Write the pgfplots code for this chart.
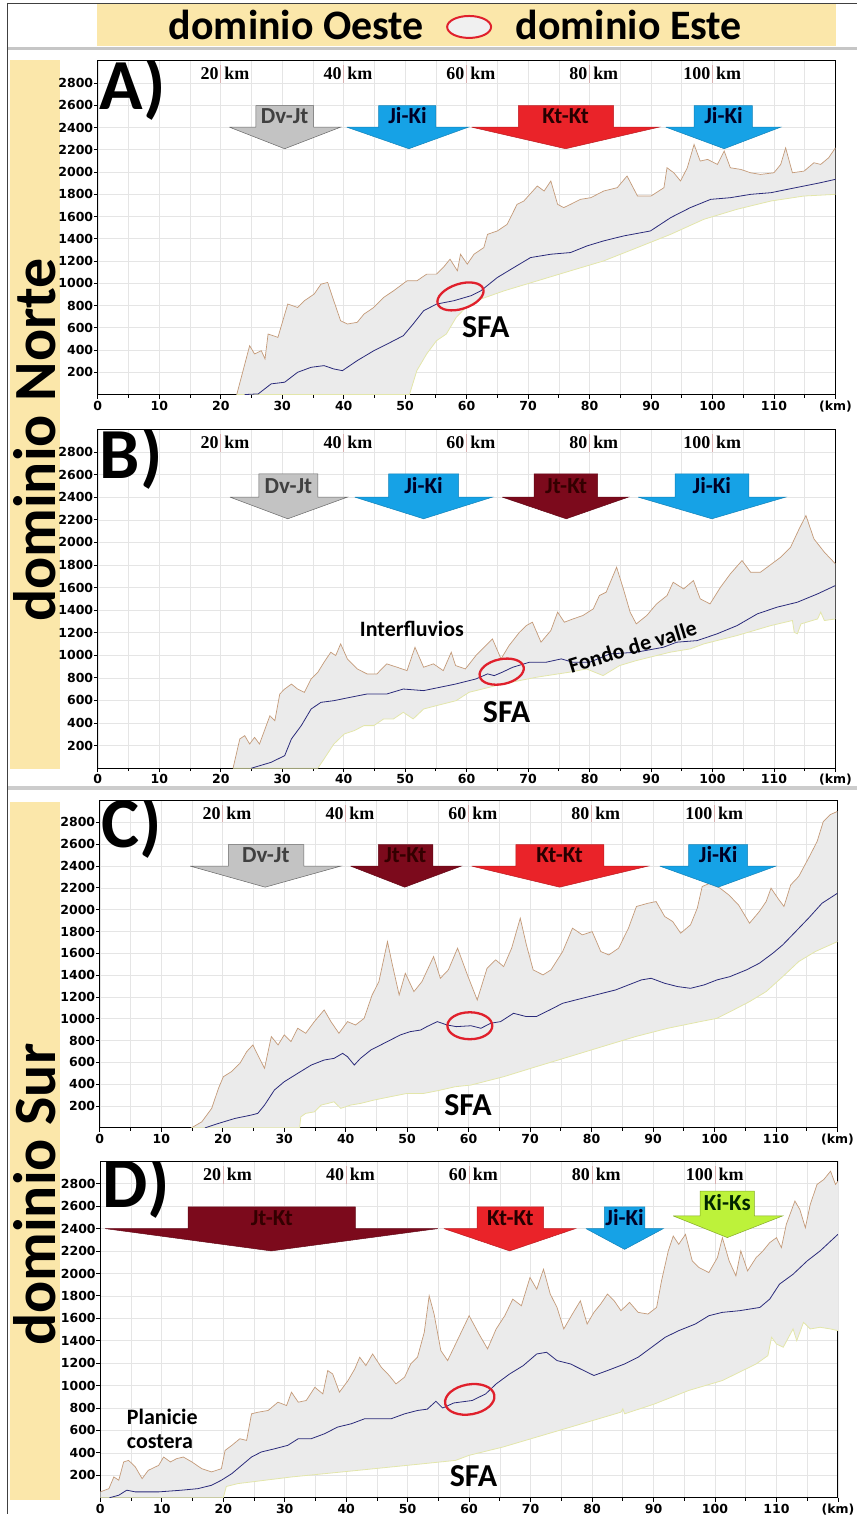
\documentclass[border=0pt]{standalone}
\usepackage{fontspec}
\setmainfont{Carlito}
\newfontfamily\dvs{DejaVu Sans}
\newfontfamily\lserif{Liberation Serif}
\usepackage{pgfplots}
\pgfplotsset{compat=1.18}
\usepgfplotslibrary{fillbetween}
\usetikzlibrary{shapes.geometric}

\definecolor{bandY}{HTML}{FBE7AA}
\definecolor{fillG}{HTML}{EBEBEB}
\definecolor{upC}{HTML}{C49A78}
\definecolor{midC}{HTML}{2A2A7A}
\definecolor{lowC}{HTML}{E3E6AA}
\definecolor{arrGray}{HTML}{C3C3C3}
\definecolor{arrBlue}{HTML}{16A2E6}
\definecolor{arrRed}{HTML}{EA2329}
\definecolor{arrMaroon}{HTML}{7C0A1C}
\definecolor{arrLime}{HTML}{BDF23A}
\definecolor{ellRed}{HTML}{E0202C}
\definecolor{kmLine}{HTML}{D8B0B0}

\newcommand{\fs}[1]{\fontsize{#1}{#1}\selectfont}

\tikzset{arrtxt/.style={font=\bfseries\fs{23}, inner sep=0, anchor=base}}

\pgfplotsset{
  panel/.style={
    scale only axis, width=739pt, anchor=south west,
    xmin=0, xmax=120, ymin=0, ymax=3000,
    xtick={0,10,...,120},
    xticklabels={0,10,20,30,40,50,60,70,80,90,100,110,(km)},
    minor xtick={5,15,...,115},
    ytick={200,400,...,2800},
    grid=both,
    major grid style={draw=black!10, line width=0.6pt},
    minor grid style={draw=black!10, line width=0.6pt},
    tick align=outside, major tick length=4pt, minor tick length=3pt,
    tick style={black, line width=0.8pt},
    xtick pos=bottom, ytick pos=left,
    axis line style={black, line width=1.1pt},
    ticklabel style={font=\dvs\bfseries\fs{12.5}},
    /pgf/number format/assume math mode=true,
    /pgf/number format/1000 sep={},
    yticklabel style={inner sep=0.5pt},
    xticklabel style={inner sep=2pt},
  },
  upl/.style={draw=upC, line width=0.7pt, mark=none},
  midl/.style={draw=midC, line width=0.8pt, mark=none},
  lowl/.style={draw=lowC, line width=0.8pt, mark=none},
}

\newcommand{\kmlabels}{%
  \pgfplotsinvokeforeach{20,40,60,80,100}{%
    \draw[kmLine, line width=0.8pt] (axis cs:##1,2800) -- (axis cs:##1,2960);
    \node[anchor=base east, inner sep=2pt, font=\lserif\bfseries\fs{18}] at (axis cs:##1,2830) {##1};
    \node[anchor=base west, inner sep=3.5pt, font=\lserif\bfseries\fs{18}] at (axis cs:##1,2830) {km};
  }%
  \node[font=\dvs\bfseries\fs{11}] at ([xshift=-18pt,yshift=9pt]rel axis cs:0,1) {(m)};
}

\begin{document}
\begin{tikzpicture}
\path (0,0) rectangle (859pt,-1517pt);
% frame and bands
\fill[bandY] (97pt,-3pt) rectangle (838pt,-46pt);
\fill[bandY] (10pt,-60pt) rectangle (60pt,-770pt);
\fill[bandY] (10pt,-803pt) rectangle (60pt,-1503pt);
\draw[gray!45, line width=3pt] (7pt,-49pt) -- (859pt,-49pt);
\draw[gray!40, line width=4pt] (7pt,-789pt) -- (859pt,-789pt);
\draw[black!75, line width=0.9pt] (7pt,-3pt) -- (859pt,-3pt);
\draw[black!75, line width=0.9pt] (7pt,-3pt) -- (7pt,-1517pt);
% title
\node[font=\bfseries\fs{42}, anchor=base] at (297pt,-40pt) {dominio Oeste};
\node[font=\bfseries\fs{42}, anchor=base] at (630pt,-40pt) {dominio Este};
\node[draw=ellRed, fill=black!6, line width=2pt, ellipse, minimum width=44pt, minimum height=22pt, inner sep=0] at (470pt,-27pt) {};
\node[font=\bfseries\fs{60}, rotate=90, anchor=base] at (56pt,-441pt) {dominio Norte};
\node[font=\bfseries\fs{60}, rotate=90, anchor=base] at (56pt,-1197pt) {dominio Sur};

% ================= Panel A =================
\begin{axis}[panel, at={(98pt,-395.3pt)}, height=334.5pt]
\addplot[name path=upA, upl] coordinates {
(22.6,0) (24.7,439) (25.5,365) (26.6,394) (27.2,320) (27.7,544) (29.3,514) (30.9,813) (32.5,783) (33.6,843) (35.2,903) (36.3,992) (37.4,1007) (38.2,873) (39.5,663) (40.6,634) (42.2,649) (43.3,723) (44.9,783) (46.5,873) (48.1,932) (50.3,1022) (51.9,1022) (53.5,1082) (55.1,1082) (56.2,1142) (57.3,1216) (58.5,1112) (59.0,1261) (60.1,1172) (61.2,1261) (62.8,1321) (63.4,1440) (65.0,1470) (66.6,1530) (68.2,1709) (69.3,1739) (71.5,1874) (72.6,1829) (73.7,1919) (74.8,1709) (75.8,1680) (76.9,1709) (78.5,1754) (80.2,1769) (82.3,1829) (84.5,1859) (86.1,1964) (87.8,1784) (90.0,1784) (92.1,1859) (92.6,2038) (93.7,1993) (94.8,1919) (95.9,2038) (97.0,2247) (98.0,2098) (99.2,2113) (100.8,2068) (101.9,2188) (102.9,2038) (104.6,2023) (106.2,1993) (107.8,1978) (110.0,1993) (111.1,2068) (111.9,2217) (113.0,1993) (114.9,2008) (116.5,2083) (117.6,2068) (118.9,2128) (120,2217)};
\addplot[name path=loA, lowl] coordinates {
(22.6,0) (50.7,0) (51.9,215) (53.5,365) (55.1,484) (56.7,544) (58.3,693) (60.0,790) (62.3,858) (66.1,932) (71.5,1022) (76.9,1112) (82.3,1201) (87.8,1321) (93.2,1440) (98.6,1575) (104.0,1665) (109.5,1739) (114.9,1784) (120,1799)};
\addplot[fillG] fill between[of=upA and loA];
\addplot[midl] coordinates {
(23.9,0) (26.1,6) (28.2,96) (30.4,111) (32.5,200) (34.7,245) (36.8,260) (38.4,230) (39.8,215) (42.2,305) (44.9,394) (47.6,469) (49.7,529) (51.3,634) (53.0,753) (55.1,813) (57.9,843) (60.7,888) (62.3,932) (65.0,1052) (67.7,1142) (70.4,1231) (73.7,1261) (76.9,1276) (79.6,1336) (82.3,1381) (85.6,1426) (89.9,1470) (93.2,1590) (96.4,1680) (99.7,1754) (102.9,1769) (106.2,1799) (109.5,1814) (112.2,1844) (114.9,1874) (117.6,1904) (120,1934)};
% arrows
\addplot[fill=arrGray, draw=black!60, line width=0.5pt, mark=none] coordinates {(21.4,2403) (25.7,2403) (25.7,2597) (35.1,2597) (35.1,2403) (39.5,2403) (30.4,2209) (21.4,2403)};
\node[arrtxt, text=black!75] at (axis cs:30.4,2432) {Dv-Jt};
\addplot[fill=arrBlue, draw=arrBlue!80!black, line width=0.5pt, mark=none] coordinates {(40.5,2403) (45.7,2403) (45.7,2597) (55.0,2597) (55.0,2403) (60.3,2403) (50.6,2209) (40.5,2403)};
\node[arrtxt, text=black!85!blue] at (axis cs:50.4,2432) {Ji-Ki};
\addplot[fill=arrRed, draw=arrRed!80!black, line width=0.5pt, mark=none] coordinates {(60.8,2403) (68.4,2403) (68.4,2597) (83.9,2597) (83.9,2403) (91.3,2403) (76.1,2209) (60.8,2403)};
\node[arrtxt, text=black!85!red] at (axis cs:76.1,2432) {Kt-Kt};
\addplot[fill=arrBlue, draw=arrBlue!80!black, line width=0.5pt, mark=none] coordinates {(92.4,2403) (97.0,2403) (97.0,2597) (106.5,2597) (106.5,2403) (111.1,2403) (101.9,2209) (92.4,2403)};
\node[arrtxt, text=black!85!blue] at (axis cs:101.8,2432) {Ji-Ki};
\kmlabels
\node[font=\bfseries\fs{72}, anchor=base west, inner sep=0] at (axis cs:0.3,2559) {A)};
\node[font=\bfseries\fs{32}] at (axis cs:63.1,610) {SFA};
\node[draw=ellRed, line width=2.3pt, ellipse, minimum width=48pt, minimum height=25pt, inner sep=0, rotate=18] at (axis cs:59.0,882) {};
\end{axis}

% ================= Panel B =================
\begin{axis}[panel, at={(98pt,-769.6pt)}, height=339.3pt]
\addplot[name path=upB, upl] coordinates {
(22.0,0) (23.1,259) (23.9,288) (24.7,214) (25.5,273) (26.3,214) (27.2,347) (28.0,465) (28.8,421) (29.6,657) (30.4,701) (31.5,745) (32.5,701) (33.6,672) (34.7,790) (35.8,850) (36.8,938) (37.9,1027) (38.7,997) (39.5,1101) (40.6,968) (42.2,879) (43.8,835) (45.4,835) (47.0,924) (48.7,894) (50.3,864) (51.6,1071) (53.0,894) (54.6,924) (56.2,864) (57.5,1027) (58.2,909) (59.8,879) (61.5,997) (63.1,1086) (64.2,1145) (65.6,968) (66.9,1086) (68.6,1204) (69.7,1263) (70.7,1293) (72.1,1116) (73.7,1219) (74.8,1382) (75.9,1293) (77.3,1322) (78.9,1352) (80.6,1411) (81.6,1529) (82.7,1559) (84.4,1780) (85.5,1588) (86.6,1382) (87.6,1278) (89.3,1352) (90.9,1455) (92.6,1529) (93.6,1647) (95.3,1588) (96.9,1662) (98.0,1500) (99.6,1455) (101.3,1603) (102.9,1721) (104.8,1839) (106.2,1736) (107.8,1736) (108.9,1780) (111.1,1869) (112.7,1957) (114.1,2120) (115.2,2238) (116.5,2031) (118.2,1913) (120,1810)};
\addplot[name path=loB, lowl] coordinates {
(22.0,0) (35.8,0) (36.8,81) (38.4,214) (40.1,303) (41.7,332) (43.3,377) (44.9,377) (46.5,436) (48.1,436) (49.7,495) (51.3,436) (53.0,524) (55.1,554) (58.3,598) (60.4,672) (65.8,745) (71.3,805) (76.7,850) (79.5,879) (82.2,820) (84.9,909) (87.6,953) (93.1,1027) (96.4,1057) (98.6,1101) (104.0,1175) (109.5,1263) (113.0,1308) (113.3,1204) (113.8,1190) (114.4,1278) (117.1,1322) (117.6,1382) (118.2,1308) (120,1322)};
\addplot[fillG] fill between[of=upB and loB];
\addplot[midl] coordinates {
(25.0,0) (28.2,52) (30.4,111) (31.5,259) (33.1,377) (34.7,524) (36.3,583) (38.4,598) (41.1,628) (43.8,657) (47.0,657) (49.7,701) (53.0,687) (55.6,716) (58.2,745) (61.5,790) (63.4,835) (64.5,820) (65.8,850) (67.5,894) (70.2,938) (72.9,938) (75.4,968) (77.3,938) (80.0,938) (83.3,1012) (87.6,1027) (92.0,1071) (94.2,1116) (97.5,1130) (100.7,1189) (104.0,1263) (107.3,1367) (110.5,1426) (113.8,1470) (117.1,1544) (120,1618)};
\addplot[fill=arrGray, draw=black!60, line width=0.5pt, mark=none] coordinates {(21.5,2401) (26.2,2401) (26.2,2607) (35.8,2607) (35.8,2401) (40.6,2401) (30.9,2209) (21.5,2401)};
\node[arrtxt, text=black!75] at (axis cs:31.0,2435) {Dv-Jt};
\addplot[fill=arrBlue, draw=arrBlue!80!black, line width=0.5pt, mark=none] coordinates {(41.8,2401) (47.3,2401) (47.3,2607) (58.7,2607) (58.7,2401) (64.2,2401) (53.0,2209) (41.8,2401)};
\node[arrtxt, text=black!85!blue] at (axis cs:53.0,2435) {Ji-Ki};
\addplot[fill=arrMaroon, draw=arrMaroon!80!black, line width=0.5pt, mark=none] coordinates {(65.8,2401) (71.0,2401) (71.0,2607) (81.3,2607) (81.3,2401) (86.3,2401) (76.2,2209) (65.8,2401)};
\node[arrtxt, text=black!80!red] at (axis cs:76.2,2435) {Jt-Kt};
\addplot[fill=arrBlue, draw=arrBlue!80!black, line width=0.5pt, mark=none] coordinates {(87.9,2401) (93.9,2401) (93.9,2607) (105.9,2607) (105.9,2401) (111.9,2401) (99.9,2209) (87.9,2401)};
\node[arrtxt, text=black!85!blue] at (axis cs:99.9,2435) {Ji-Ki};
\kmlabels
\node[font=\bfseries\fs{72}, anchor=base west, inner sep=0] at (axis cs:0.3,2563) {B)};
\node[font=\bfseries\fs{22}] at (axis cs:51.1,1235) {Interfluvios};
\node[font=\bfseries\fs{22}, rotate=17, inner sep=0] at (axis cs:87.0,1075) {Fondo de valle};
\node[font=\bfseries\fs{32}] at (axis cs:66.5,492) {SFA};
\node[draw=ellRed, line width=2.3pt, ellipse, minimum width=45pt, minimum height=25pt, inner sep=0, rotate=12] at (axis cs:65.7,855) {};
\end{axis}

% ================= Panel C =================
\begin{axis}[panel, at={(100pt,-1130pt)}, height=328pt]
\addplot[name path=upC, upl] coordinates {
(14.9,0) (16.6,56) (18.2,179) (19.3,362) (20.1,469) (21.4,515) (22.8,592) (23.9,699) (24.9,760) (25.7,668) (26.8,546) (27.9,837) (29.0,760) (30.0,852) (31.1,791) (32.2,913) (33.5,867) (34.9,974) (36.5,1081) (37.6,974) (38.9,867) (40.3,974) (41.6,943) (43.0,1004) (44.3,1218) (45.4,1340) (46.8,1707) (47.6,1493) (48.7,1218) (49.7,1417) (51.1,1249) (52.4,1340) (54.3,1570) (55.4,1371) (56.7,1448) (58.2,1647) (59.8,1402) (61.4,1172) (63.0,1463) (64.4,1540) (65.7,1478) (67.0,1647) (68.4,1922) (69.4,1677) (70.5,1448) (72.1,1402) (73.4,1448) (75.3,1616) (76.9,1830) (78.5,1769) (80.1,1799) (81.5,1616) (82.8,1585) (84.4,1647) (86.0,1830) (87.3,2029) (89.2,2059) (90.5,2074) (91.9,1937) (93.2,1891) (94.5,1784) (96.1,1861) (97.2,2013) (98.0,2212) (99.3,2243) (100.9,2197) (102.3,2136) (103.9,2044) (105.7,1876) (107.3,1983) (108.4,2074) (109.2,2197) (110.3,2105) (111.3,2029) (112.4,2227) (113.7,2304) (115.3,2472) (116.7,2625) (117.7,2808) (118.8,2870) (120,2900)};
\addplot[name path=loC, lowl] coordinates {
(14.9,0) (32.5,0) (32.7,101) (33.5,133) (34.9,147) (36.0,209) (37.1,224) (38.1,239) (39.2,179) (40.8,209) (42.4,224) (44.6,255) (47.3,286) (50.0,316) (52.7,316) (54.9,340) (57.8,377) (60.4,393) (65.7,469) (71.0,561) (76.4,653) (81.7,744) (87.1,836) (92.4,913) (97.7,974) (100.4,1004) (103.1,1081) (105.7,1157) (108.4,1249) (111.1,1386) (113.7,1524) (116.4,1616) (120,1707)};
\addplot[fillG] fill between[of=upC and loC];
\addplot[midl] coordinates {
(17.1,0) (19.3,41) (22.0,87) (24.6,117) (25.7,133) (26.8,209) (28.4,347) (30.0,423) (32.2,500) (34.4,576) (36.5,622) (38.1,637) (39.5,683) (40.3,652) (41.4,576) (42.4,637) (44.1,714) (45.7,760) (47.3,806) (48.9,852) (50.5,882) (52.2,897) (53.2,928) (54.9,974) (56.5,943) (58.0,928) (60.4,936) (62.0,913) (63.6,959) (65.2,974) (67.3,1050) (69.4,1020) (71.0,1020) (73.2,1081) (75.3,1142) (77.4,1172) (79.6,1203) (81.7,1233) (83.9,1264) (86.0,1310) (88.1,1356) (89.7,1371) (91.9,1325) (94.0,1295) (96.1,1279) (98.3,1310) (100.4,1356) (102.5,1386) (105.2,1448) (107.3,1509) (109.5,1601) (111.1,1677) (113.2,1799) (115.3,1922) (117.5,2059) (120,2150)};
\addplot[fill=arrGray, draw=black!60, line width=0.5pt, mark=none] coordinates {(14.7,2399) (20.9,2399) (20.9,2595) (33.2,2595) (33.2,2399) (39.2,2399) (26.9,2206) (14.7,2399)};
\node[arrtxt, text=black!75] at (axis cs:27.0,2430) {Dv-Jt};
\addplot[fill=arrMaroon, draw=arrMaroon!80!black, line width=0.5pt, mark=none] coordinates {(40.8,2399) (45.3,2399) (45.3,2595) (54.2,2595) (54.2,2399) (58.8,2399) (49.6,2206) (40.8,2399)};
\node[arrtxt, text=black!80!red] at (axis cs:49.7,2430) {Jt-Kt};
\addplot[fill=arrRed, draw=arrRed!80!black, line width=0.5pt, mark=none] coordinates {(60.5,2399) (67.7,2399) (67.7,2595) (82.0,2595) (82.0,2399) (89.2,2399) (74.8,2206) (60.5,2399)};
\node[arrtxt, text=black!85!red] at (axis cs:74.8,2430) {Kt-Kt};
\addplot[fill=arrBlue, draw=arrBlue!80!black, line width=0.5pt, mark=none] coordinates {(91.1,2399) (95.8,2399) (95.8,2595) (105.4,2595) (105.4,2399) (110.0,2399) (100.6,2206) (91.1,2399)};
\node[arrtxt, text=black!85!blue] at (axis cs:100.6,2430) {Ji-Ki};
\kmlabels
\node[font=\bfseries\fs{72}, anchor=base west, inner sep=0] at (axis cs:0.3,2569) {C)};
\node[font=\bfseries\fs{32}] at (axis cs:59.9,211) {SFA};
\node[draw=ellRed, line width=2.3pt, ellipse, minimum width=45pt, minimum height=27pt, inner sep=0] at (axis cs:60.2,936) {};
\end{axis}

% ================= Panel D =================
\begin{axis}[panel, at={(100.5pt,-1500.5pt)}, height=337pt]
\addplot[name path=upD, upl] coordinates {
(0,52) (1.4,81) (2.2,185) (3.0,156) (3.8,319) (4.6,333) (5.7,274) (6.8,170) (7.8,244) (9.5,289) (10.3,363) (11.4,319) (12.4,348) (13.5,363) (14.9,319) (16.5,259) (18.1,230) (19.7,259) (20.3,422) (21.4,467) (22.7,526) (23.8,511) (24.6,748) (25.7,763) (27.3,778) (28.9,852) (30.3,822) (31.1,941) (32.2,852) (33.5,867) (34.9,985) (36.2,926) (37.0,1134) (37.8,1104) (38.9,941) (40.3,1045) (41.4,1149) (42.2,1253) (43.2,1178) (44.3,1282) (45.7,1164) (47.0,1090) (48.1,1015) (49.5,1075) (50.5,1193) (51.6,1253) (52.7,1475) (53.5,1801) (54.3,1638) (55.4,1312) (56.5,1223) (57.8,1371) (60.0,1623) (61.6,1460) (63.0,1327) (64.4,1505) (65.8,1623) (67.1,1771) (68.5,1712) (69.9,1964) (71.0,1860) (72.1,2038) (73.2,1816) (74.3,1697) (75.4,1505) (76.8,1638) (78.1,1756) (79.2,1549) (80.3,1653) (81.4,1727) (82.5,1816) (83.6,1756) (84.7,1668) (86.1,1742) (87.5,1653) (89.1,1638) (90.5,1697) (91.3,1934) (92.4,2201) (93.2,2334) (94.1,2260) (95.2,2349) (96.3,2112) (97.4,2053) (99.0,2008) (100.4,2142) (101.2,2319) (102.3,2112) (103.4,1978) (104.2,2201) (105.3,2023) (106.7,2142) (107.8,2201) (108.9,2275) (110.0,2319) (110.8,2230) (111.6,2438) (113.0,2646) (113.8,2571) (114.7,2408) (115.5,2616) (116.6,2794) (117.7,2838) (118.8,2912) (119.6,2794) (120,2823)};
\addplot[name path=loD, lowl] coordinates {
(0,0) (20.0,0) (20.5,100) (22.4,126) (31.1,185) (41.9,244) (52.7,304) (57.8,333) (60.0,378) (65.5,452) (71.0,541) (76.5,630) (82.0,719) (84.7,763) (85.0,793) (85.3,748) (90.2,837) (95.7,956) (101.2,1045) (106.7,1193) (108.6,1267) (109.2,1431) (110.0,1371) (111.1,1342) (112.7,1505) (113.3,1401) (114.4,1564) (115.5,1505) (117.1,1520) (118.8,1505) (120,1490)};
\addplot[fillG] fill between[of=upD and loD];
\addplot[midl] coordinates {
(1.5,0) (3.0,22) (4.3,67) (5.7,52) (9.5,52) (13.2,67) (15.9,81) (18.1,111) (19.7,156) (21.4,215) (23.0,289) (24.6,363) (26.2,408) (28.4,437) (30.5,467) (32.2,526) (34.3,526) (36.5,571) (38.6,630) (40.8,659) (43.0,704) (45.1,704) (47.3,704) (49.5,748) (51.6,778) (53.2,790) (54.6,860) (55.7,800) (57.5,845) (60.5,867) (62.7,926) (64.4,1015) (66.6,1104) (68.8,1178) (71.0,1282) (72.6,1297) (74.3,1223) (76.5,1193) (78.1,1149) (80.3,1090) (82.5,1134) (85.3,1193) (87.5,1253) (89.7,1342) (91.9,1431) (94.1,1490) (96.8,1549) (99.0,1623) (101.2,1653) (104.0,1668) (107.3,1697) (108.9,1771) (110.5,1905) (112.7,1993) (115.0,2112) (117.1,2201) (120,2349)};
\addplot[fill=arrMaroon, draw=arrMaroon!80!black, line width=0.5pt, mark=none] coordinates {(0.8,2400) (14.3,2400) (14.3,2593) (41.5,2593) (41.5,2400) (54.9,2400) (27.8,2201) (0.8,2400)};
\node[arrtxt, text=black!80!red] at (axis cs:27.9,2432) {Jt-Kt};
\addplot[fill=arrRed, draw=arrRed!80!black, line width=0.5pt, mark=none] coordinates {(55.9,2400) (61.3,2400) (61.3,2593) (72.1,2593) (72.1,2400) (77.3,2400) (66.6,2201) (55.9,2400)};
\node[arrtxt, text=black!85!red] at (axis cs:66.7,2432) {Kt-Kt};
\addplot[fill=arrBlue, draw=arrBlue!80!black, line width=0.5pt, mark=none] coordinates {(79.0,2400) (82.0,2400) (82.0,2593) (88.6,2593) (88.6,2400) (91.6,2400) (85.3,2215) (79.0,2400)};
\node[arrtxt, text=black!85!blue] at (axis cs:85.3,2432) {Ji-Ki};
\addplot[fill=arrLime, draw=arrLime!70!black, line width=0.5pt, mark=none] coordinates {(93.2,2513) (97.6,2513) (97.6,2735) (106.4,2735) (106.4,2513) (111.0,2513) (102.0,2320) (93.2,2513)};
\node[arrtxt, text=black!85!green] at (axis cs:102.0,2560) {Ki-Ks};
\kmlabels
\node[font=\bfseries\fs{72}, anchor=base west, inner sep=0] at (axis cs:0.3,2587) {D)};
\node[font=\bfseries\fs{22}, anchor=west, align=left, inner sep=0] at (axis cs:4.3,610) {Planicie\\[2pt]costera};
\node[font=\bfseries\fs{32}] at (axis cs:60.7,191) {SFA};
\node[draw=ellRed, line width=2.3pt, ellipse, minimum width=50pt, minimum height=30pt, inner sep=0, rotate=10] at (axis cs:60.1,877) {};
\end{axis}
\end{tikzpicture}
\end{document}
